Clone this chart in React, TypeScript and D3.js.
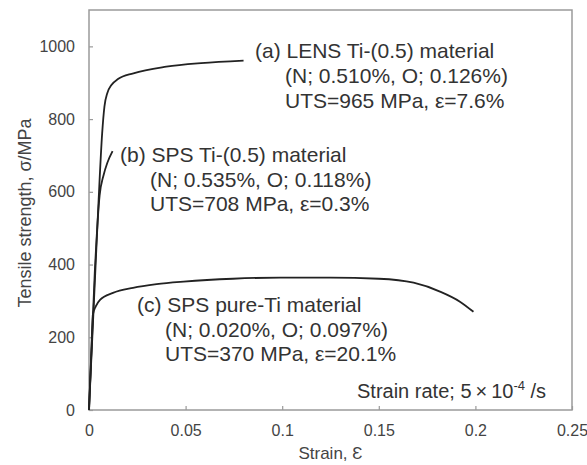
import React, { useEffect, useRef } from 'react';
import * as d3 from 'd3';

// stress-strain curves (strain, MPa)
const strainA = [0, 0.003, 0.005, 0.0068, 0.008, 0.0095, 0.0115, 0.015, 0.023, 0.04, 0.058, 0.08];
const stressA = [0, 350, 580, 760, 835, 872, 893, 910, 926, 944, 954, 961];

const strainB = [0, 0.003, 0.0055, 0.0075, 0.0095, 0.0122];
const stressB = [0, 380, 590, 645, 680, 712];

const strainC = [0, 0.0012, 0.002, 0.0035, 0.0057, 0.0124, 0.0228, 0.035, 0.049, 0.0745, 0.099, 0.125, 0.15, 0.168, 0.182, 0.192, 0.199];
const stressC = [0, 160, 262, 285, 303, 322, 336, 346, 353, 361, 364, 364, 361, 350, 325, 298, 270];

const xTicks = [0, 0.05, 0.1, 0.15, 0.2, 0.25];
const yTicks = [0, 200, 400, 600, 800, 1000];

const labelA = ['(a) LENS Ti-(0.5) material', '(N; 0.510%, O; 0.126%)', 'UTS=965 MPa, ε=7.6%'];
const labelB = ['(b) SPS Ti-(0.5) material', '(N; 0.535%, O; 0.118%)', 'UTS=708 MPa, ε=0.3%'];
const labelC = ['(c) SPS pure-Ti material', '(N; 0.020%, O; 0.097%)', 'UTS=370 MPa, ε=20.1%'];

const FONT = '"Liberation Sans", Arial, sans-serif';

const App = () => {
    const ref = useRef<SVGSVGElement | null>(null);

    useEffect(() => {
        if (!ref.current) return;
        const svg = d3.select(ref.current);
        svg.selectAll('*').remove();

        const margin = { top: 10, right: 15, bottom: 55, left: 89 };
        const width = 587 - margin.left - margin.right;
        const height = 465 - margin.top - margin.bottom;

        const g = svg.append('g').attr('transform', `translate(${margin.left},${margin.top})`);

        const x = d3.scaleLinear().domain([0, 0.25]).range([0, width]);
        const y = d3.scaleLinear().domain([0, 1100]).range([height, 0]);

        // frame
        g.append('rect')
            .attr('width', width).attr('height', height)
            .attr('fill', 'none').attr('stroke', '#9a9a9a').attr('stroke-width', 1.5);

        const xAxis = g.append('g')
            .attr('transform', `translate(0,${height})`)
            .call(d3.axisBottom(x).tickValues(xTicks).tickSizeInner(-4).tickSizeOuter(0).tickPadding(15).tickFormat(d => String(d)));
        const yAxis = g.append('g')
            .call(d3.axisLeft(y).tickValues(yTicks).tickSizeInner(-4).tickSizeOuter(0).tickPadding(14).tickFormat(d3.format('d')));

        [xAxis, yAxis].forEach(a => {
            a.select('.domain').remove();
            a.selectAll('line').attr('stroke', '#9a9a9a').attr('stroke-width', 1.2);
            a.selectAll('text').attr('fill', '#444').attr('font-size', 16).attr('font-family', FONT);
        });

        // curves
        const line = d3.line<[number, number]>()
            .x(d => x(d[0]))
            .y(d => y(d[1]))
            .curve(d3.curveMonotoneX);

        [[strainA, stressA], [strainB, stressB], [strainC, stressC]].forEach(([sx, sy]) => {
            g.append('path')
                .datum(sx.map((v, i) => [v, sy[i]] as [number, number]))
                .attr('d', line)
                .attr('fill', 'none')
                .attr('stroke', '#222')
                .attr('stroke-width', 1.8);
        });

        // annotations
        const note = (lines: string[], x0: number, x1: number, y0: number, step: number) => {
            const t = svg.append('text')
                .attr('font-family', FONT).attr('font-size', 21).attr('fill', '#333');
            lines.forEach((s, i) => {
                t.append('tspan').attr('x', i === 0 ? x0 : x1).attr('y', y0 + i * step).text(s);
            });
        };
        note(labelA, 255, 285, 58, 25);
        note(labelB, 120, 150, 162, 24.5);
        note(labelC, 137, 165, 312, 24.5);

        const rate = svg.append('text')
            .attr('x', 357).attr('y', 398)
            .attr('font-family', FONT).attr('font-size', 20).attr('fill', '#333');
        rate.append('tspan').text('Strain rate; 5\u2009×\u200910');
        rate.append('tspan').attr('dy', -8).attr('font-size', 13).text('-4');
        rate.append('tspan').attr('dy', 8).text(' /s');

        // axis titles
        svg.append('text')
            .attr('x', margin.left + width / 2).attr('y', 459)
            .attr('text-anchor', 'middle')
            .attr('font-family', FONT).attr('font-size', 17).attr('fill', '#444')
            .text('Strain, Ɛ');
        svg.append('text')
            .attr('transform', `translate(31,${213}) rotate(-90)`)
            .attr('text-anchor', 'middle')
            .attr('font-family', FONT).attr('font-size', 18).attr('fill', '#444')
            .text('Tensile strength, σ/MPa');
    }, []);

    return (
        <svg
            ref={ref}
            width={587}
            height={465}
            style={{ position: 'absolute', left: 0, top: 0, background: '#fff' }}
        />
    );
};

export default App;
